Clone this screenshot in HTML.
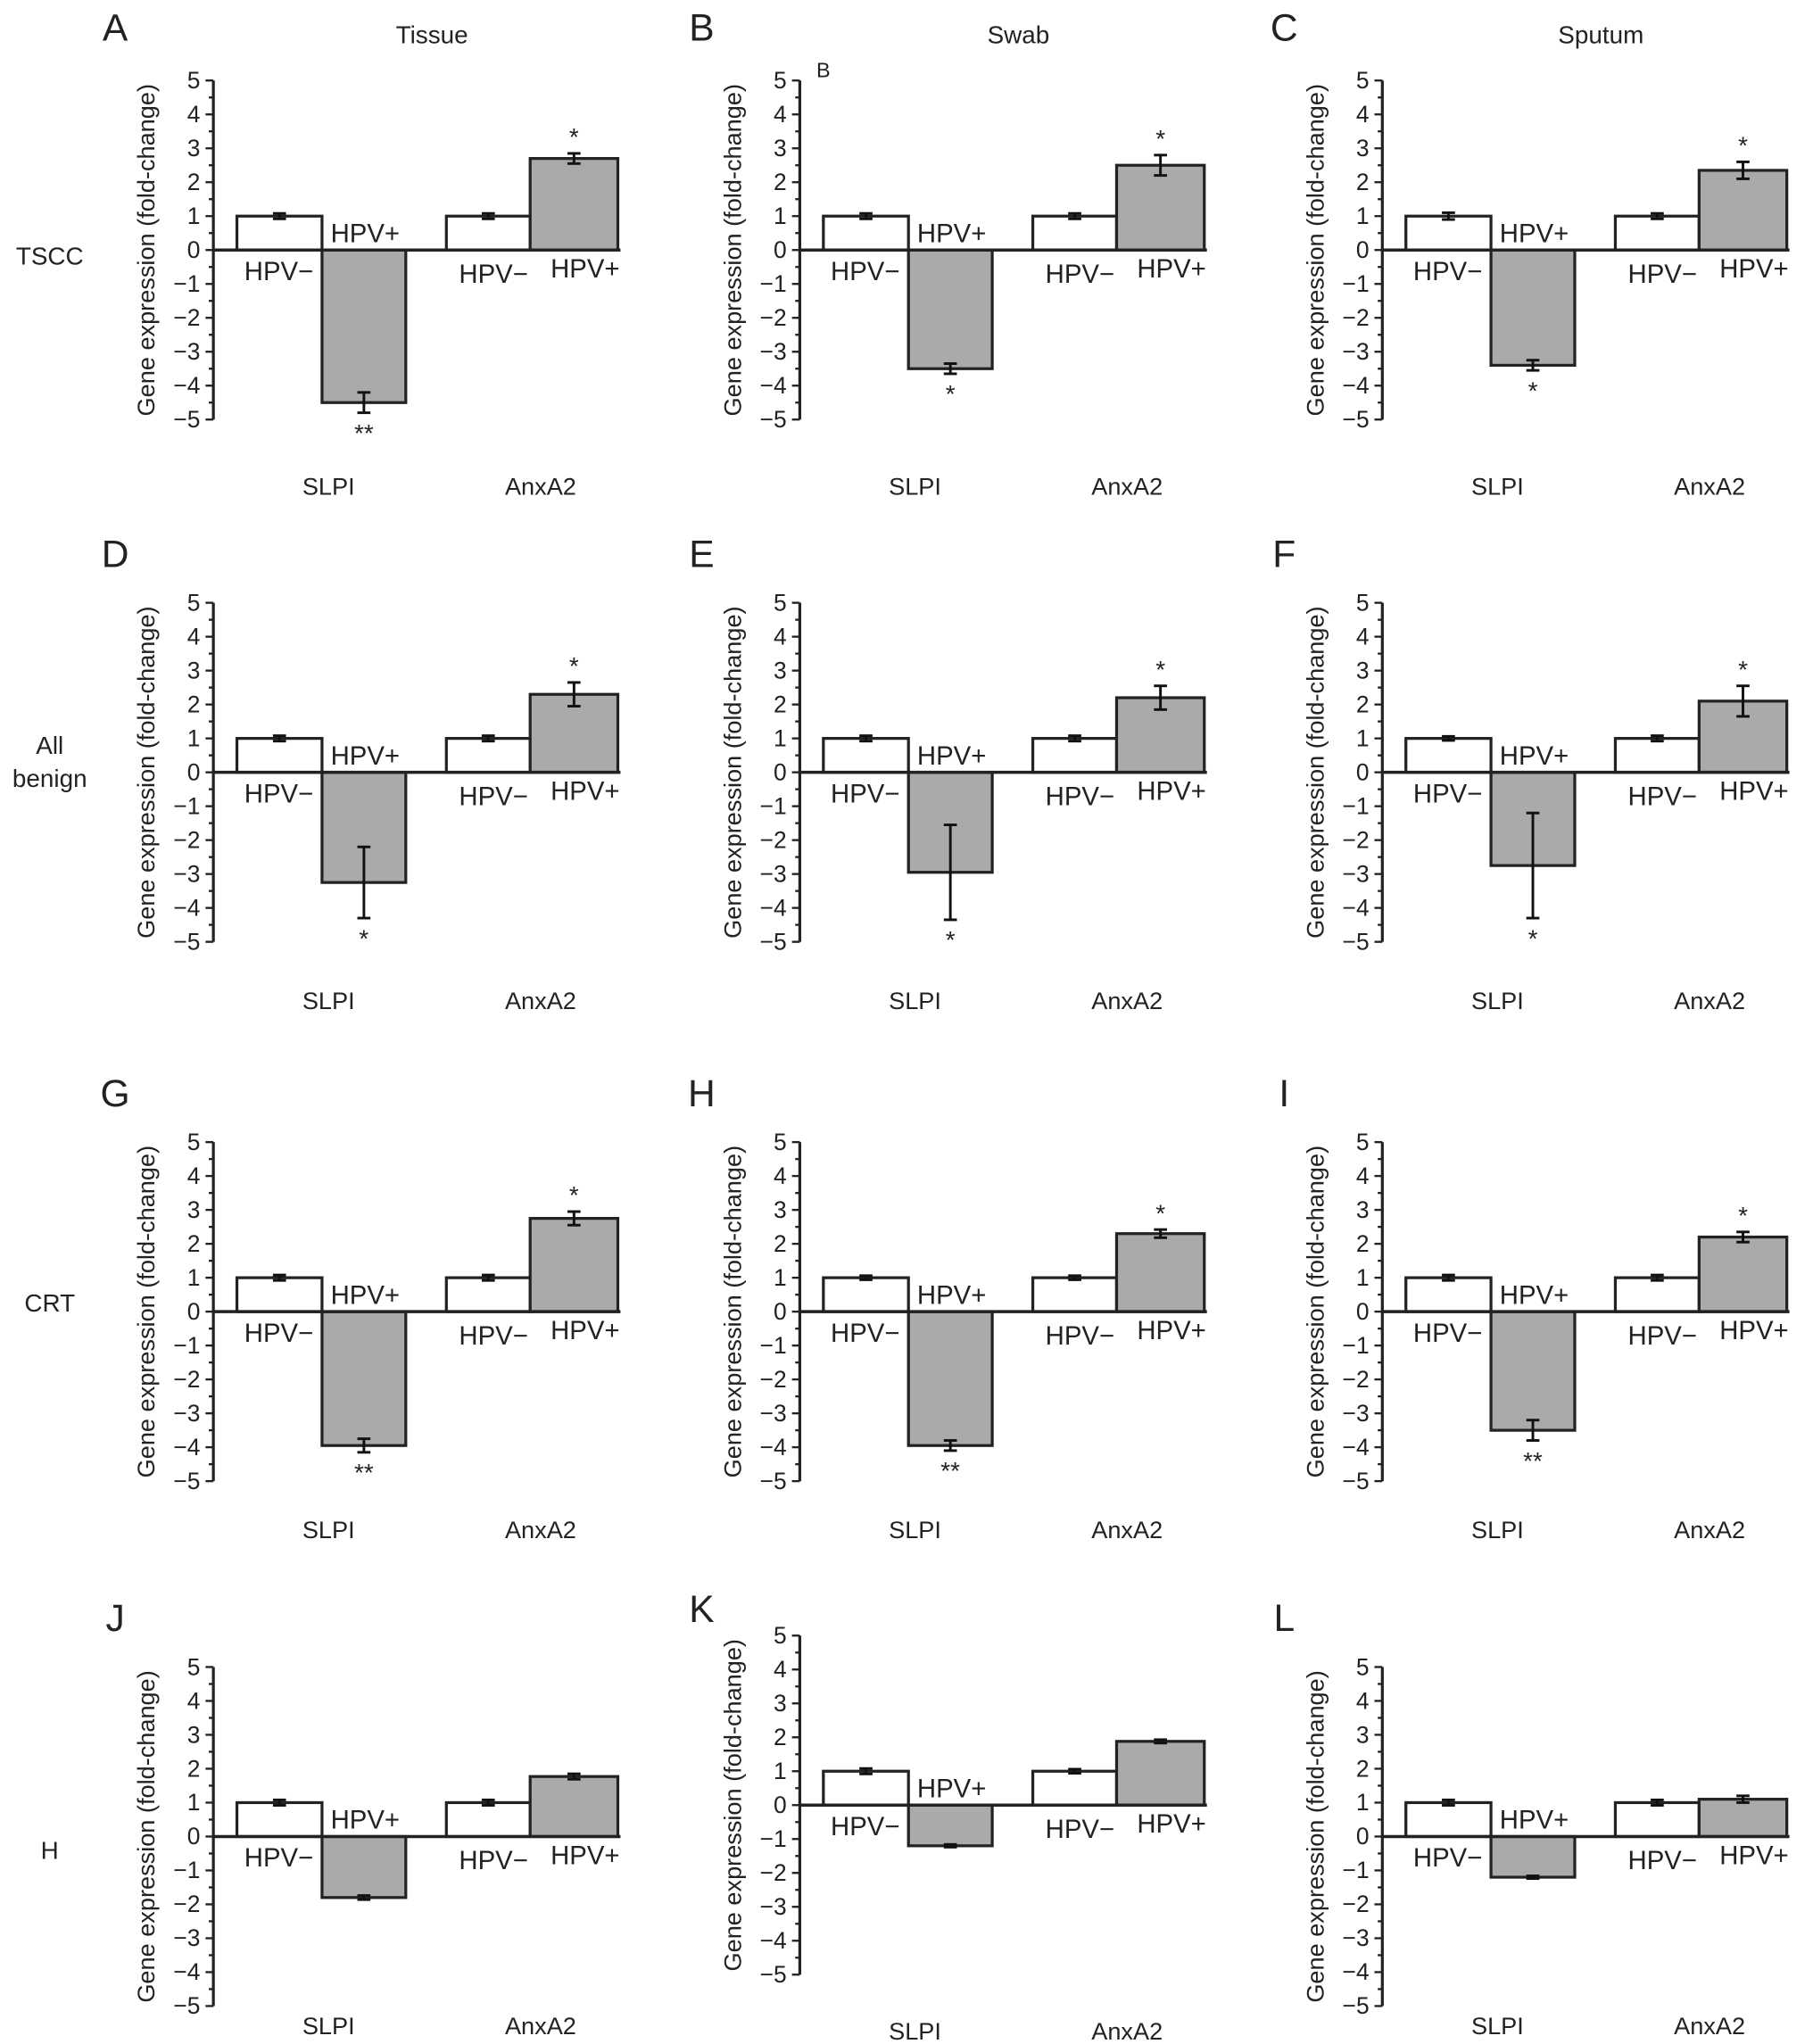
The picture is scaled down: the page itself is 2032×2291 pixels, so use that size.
<!DOCTYPE html>
<html><head><meta charset="utf-8">
<style>
html,body{margin:0;padding:0;background:#fff;}
svg{display:block;}
text{font-family:"Liberation Sans",Arial,sans-serif;fill:#222;}
</style></head>
<body>
<svg id="fig" width="2032" height="2291" viewBox="0 0 1385 1561.5" preserveAspectRatio="none" xmlns="http://www.w3.org/2000/svg"></svg>
<script>
// panel data
const panelLetters = ["A","B","C","D","E","F","G","H","I","J","K","L"];
const genes = ["SLPI","AnxA2"];
const groups = ["HPV−","HPV+"];
const valsSlpiNeg = [1,1,1, 1,1,1, 1,1,1, 1,1,1];
const errSlpiNeg  = [0.08,0.08,0.1, 0.08,0.08,0.06, 0.08,0.06,0.08, 0.08,0.08,0.08];
const valsSlpiPos = [-4.5,-3.5,-3.4, -3.25,-2.95,-2.75, -3.95,-3.95,-3.5, -1.8,-1.2,-1.2];
const errSlpiPos  = [0.3,0.15,0.15, 1.05,1.4,1.55, 0.2,0.15,0.3, 0.06,0.04,0.04];
const valsAnxNeg  = [1,1,1, 1,1,1, 1,1,1, 1,1,1];
const errAnxNeg   = [0.08,0.08,0.08, 0.08,0.08,0.08, 0.08,0.06,0.08, 0.08,0.06,0.08];
const valsAnxPos  = [2.7,2.5,2.35, 2.3,2.2,2.1, 2.75,2.3,2.2, 1.77,1.88,1.1];
const errAnxPos   = [0.15,0.3,0.25, 0.35,0.35,0.45, 0.2,0.12,0.15, 0.08,0.05,0.1];
const sigSlpi = ["**","*","*", "*","*","*", "**","**","**", "","",""];
const sigAnx  = ["*","*","*", "*","*","*", "*","*","*", "","",""];
const yTicks = [5,4,3,2,1,0,-1,-2,-3,-4,-5];
const colTitles = ["Tissue","Swab","Sputum"];
const rowTitles = [["TSCC"],["All","benign"],["CRT"],["H"]];

const svg = document.getElementById('fig');
const NS = "http://www.w3.org/2000/svg";
function mk(tag, attrs, parent){
  const e = document.createElementNS(NS, tag);
  for (const k in attrs) e.setAttribute(k, attrs[k]);
  (parent||svg).appendChild(e);
  return e;
}
function txt(s, x, y, size, anchor, parent){
  const t = mk('text', {x:x, y:y, 'font-size':size, 'text-anchor':anchor||'middle'}, parent);
  t.textContent = s;
  return t;
}

const colX = [0, 448, 893];
const rowZero = [191, 590, 1002, 1403];
const rowZeroK = 1379;
const labelOffset = [187, 181, 173, 151];
const unit = 25.9;

colTitles.forEach((c,i)=>{
  const t = txt(c, 330+colX[i], 33, 19);
  
  
});
const rowTY = [[202],[576,601],[1002],[1420]];
rowTitles.forEach((r,i)=>{
  r.forEach((s,j)=>{
    const t = txt(s, 38, rowTY[i][j], 19);
    
    
  });
});

panelLetters.forEach((L, idx)=>{
  const row = Math.floor(idx/3), col = idx%3;
  const ox = colX[col];
  const zero = (L==="K") ? rowZeroK : rowZero[row];
  const g = mk('g', {});
  
  
  const yS = v => zero - v*unit;
  const ax = 163 + ox;

  const letter = txt(L, 88+ox, zero - (row===0?160:(L==="K"?140:157)), 29, 'middle', g);
  
  

  const axis = mk('line', {x1:ax, y1:yS(5), x2:ax, y2:yS(-5), stroke:'#222', 'stroke-width':2.2}, g);
  
  
  for (let v=-5; v<=5.001; v+=0.5){
    const major = Math.abs(v - Math.round(v))<0.01;
    mk('line', {x1:ax-(major?6:3.5), y1:yS(v), x2:ax, y2:yS(v), stroke:'#222', 'stroke-width':1.6}, g);
  }
  yTicks.forEach(v=>{
    const t = txt(v<0 ? '−'+Math.abs(v) : String(v), ax-10, yS(v)+6, 18, 'end', g);
    
    
  });
  const yt = txt('Gene expression (fold-change)', 0, 0, 18.5, 'middle', g);
  yt.setAttribute('transform', `translate(${ax-45},${zero}) rotate(-90)`);
  
  

  const bars = [
    {x0:181, x1:246, v:valsSlpiNeg[idx], e:errSlpiNeg[idx], fill:'#fff', sig:''},
    {x0:246, x1:310, v:valsSlpiPos[idx], e:errSlpiPos[idx], fill:'#aaaaaa', sig:sigSlpi[idx]},
    {x0:341, x1:405, v:valsAnxNeg[idx], e:errAnxNeg[idx], fill:'#fff', sig:''},
    {x0:405, x1:472, v:valsAnxPos[idx], e:errAnxPos[idx], fill:'#aaaaaa', sig:sigAnx[idx]}
  ];
  const barNames = ['bar-slpi-hpv-neg','bar-slpi-hpv-pos','bar-anxa2-hpv-neg','bar-anxa2-hpv-pos'];
  bars.forEach((b,i)=>{
    const x0 = b.x0+ox, x1 = b.x1+ox;
    const top = Math.min(yS(b.v), zero), h = Math.abs(yS(b.v)-zero);
    const r = mk('rect', {x:x0, y:top, width:x1-x0, height:h, fill:b.fill, stroke:'#222', 'stroke-width':2.2}, g);
    
    
    const cx = (x0+x1)/2;
    const ya = yS(b.v+b.e), yb = yS(b.v-b.e);
    mk('line', {x1:cx, y1:ya, x2:cx, y2:yb, stroke:'#111', 'stroke-width':2}, g);
    mk('line', {x1:cx-5, y1:ya, x2:cx+5, y2:ya, stroke:'#111', 'stroke-width':2}, g);
    mk('line', {x1:cx-5, y1:yb, x2:cx+5, y2:yb, stroke:'#111', 'stroke-width':2}, g);
    if (b.sig){
      const sy = b.v>0 ? yS(b.v+b.e)-6 : yS(b.v-b.e)+22;
      const s = txt(b.sig, cx, sy, 19, 'middle', g);
      
      
    }
  });
  const base = mk('line', {x1:ax, y1:zero, x2:474+ox, y2:zero, stroke:'#222', 'stroke-width':2.4}, g);
  
  

  const gl = [[groups[0], 213, 23],[groups[1], 279, -6],[groups[0], 377, 25],[groups[1], 447, 21]];
  gl.forEach(a=>{
    const t = txt(a[0], a[1]+ox, zero+a[2], 20, 'middle', g);
    
    
  });
  const gy = zero + ((L==="K") ? 179 : labelOffset[row]);
  genes.forEach((gn,i)=>{
    const t = txt(gn, [251,413][i]+ox, gy, 18.5, 'middle', g);
    
    
  });
  if (L==="B"){
    const t = txt('B', 629, 59, 16, 'middle', g);
    
    
  }
});
</script>
</body></html>
